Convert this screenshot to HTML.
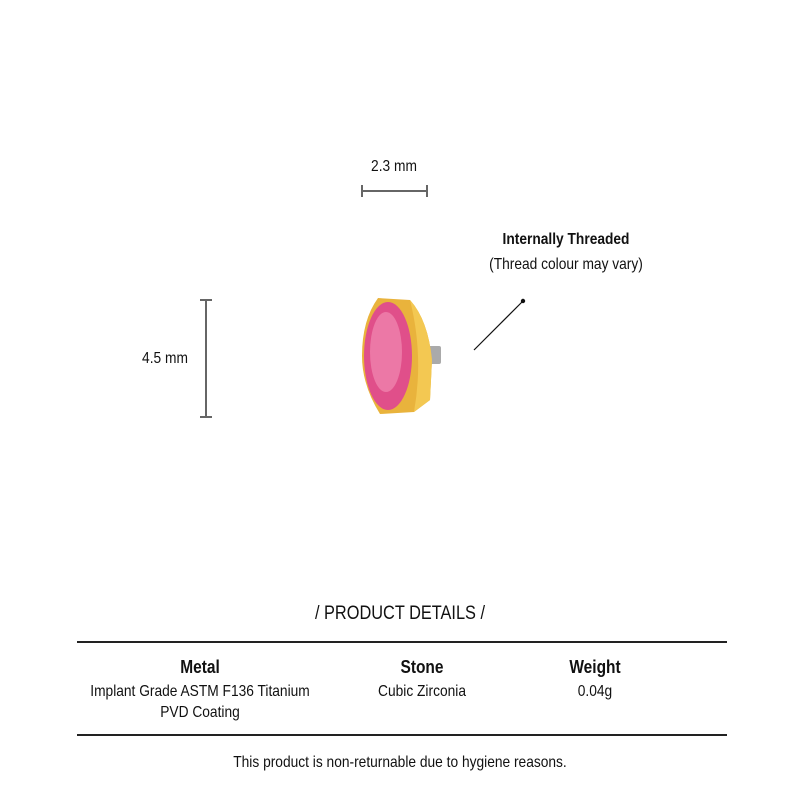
<!DOCTYPE html>
<html><head><meta charset="utf-8"><style>
body{margin:0;width:800px;height:800px;background:#fff;position:relative;overflow:hidden;font-family:"Liberation Sans",sans-serif;color:#111}
.t{position:absolute;white-space:nowrap;transform:translateX(-50%) scaleX(.86);font-size:16px;line-height:18px}
.b{font-weight:bold;font-size:18px}
.l{position:absolute;background:#222}
</style></head><body>
<div class="t" style="left:394px;top:158px">2.3 mm</div>
<svg width="800" height="800" style="position:absolute;left:0;top:0">
<g stroke="#666" stroke-width="2">
<line x1="362" y1="191" x2="427" y2="191"/><line x1="362" y1="185" x2="362" y2="197"/><line x1="427" y1="185" x2="427" y2="197"/>
<line x1="206" y1="300" x2="206" y2="417"/><line x1="200" y1="300" x2="212" y2="300"/><line x1="200" y1="417" x2="212" y2="417"/>
</g>
<line x1="474" y1="350" x2="523" y2="301" stroke="#111" stroke-width="1.2"/>
<circle cx="523" cy="301" r="2.2" fill="#111"/>
<rect x="428" y="346" width="13" height="18" rx="2" fill="#aaa"/>
<path d="M378 298 L410 300 Q428 320 432 360 L430 400 L414 412 L380 414 Q362 385 362 356 Q362 320 378 298Z" fill="#e9b33c"/>
<path d="M410 300 Q428 320 432 360 L430 400 L414 412 Q424 356 410 300Z" fill="#f3c852"/>
<ellipse cx="388" cy="356" rx="24" ry="54" fill="#e04f8a"/>
<ellipse cx="386" cy="352" rx="16" ry="40" fill="#ec78a6"/>
</svg>
<div class="t" style="left:566px;top:231px;font-weight:bold">Internally Threaded</div>
<div class="t" style="left:566px;top:256px">(Thread colour may vary)</div>
<div class="t" style="left:165px;top:350px">4.5 mm</div>
<div class="t" style="left:400px;top:603px;font-size:19px;line-height:22px">/ PRODUCT DETAILS /</div>
<div class="l" style="left:77px;top:641px;width:650px;height:1.5px"></div>
<div class="t b" style="left:200px;top:658px">Metal</div>
<div class="t" style="left:200px;top:683px">Implant Grade ASTM F136 Titanium</div>
<div class="t" style="left:200px;top:704px">PVD Coating</div>
<div class="t b" style="left:422px;top:658px">Stone</div>
<div class="t" style="left:422px;top:683px">Cubic Zirconia</div>
<div class="t b" style="left:595px;top:658px">Weight</div>
<div class="t" style="left:595px;top:683px">0.04g</div>
<div class="l" style="left:77px;top:734px;width:650px;height:1.5px"></div>
<div class="t" style="left:400px;top:754px">This product is non-returnable due to hygiene reasons.</div>
</body></html>
